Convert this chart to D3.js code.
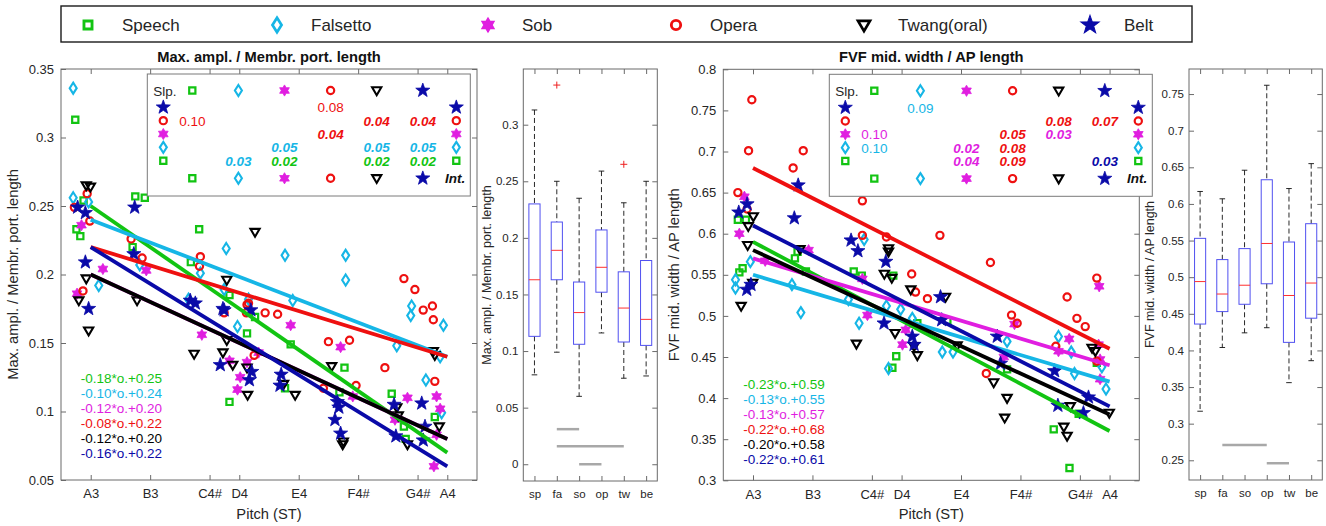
<!DOCTYPE html>
<html>
<head>
<meta charset="utf-8">
<script src="https://cdn.jsdelivr.net/npm/d3@7/dist/d3.min.js"></script>
<style>
html,body{margin:0;padding:0;background:#fff;}
svg{display:block;font-family:Arial,"Liberation Sans",Helvetica,sans-serif;}
</style>
</head>
<body>
<svg id="fig" width="1326" height="526"></svg>
<script>
// ---------------- data ----------------
const styleNames = ["Speech", "Falsetto", "Sob", "Opera", "Twang(oral)", "Belt"];
const styleCodes = ["sp", "fa", "so", "op", "tw", "be"];
const styleColors = ["#12c412", "#16b6e6", "#e01ee0", "#ee1010", "#000000", "#0a0aa8"];

// pitch axis: semitones above A3
const noteNames = ["A3", "B3", "C4#", "D4", "E4", "F4#", "G4#", "A4"];
const noteSemitones = [0, 2, 4, 5, 7, 9, 11, 12];

// Max. amplitude / membranous portion length  [semitones, value]
const amplSpeech = [[-0.52,0.313],[-0.48,0.233],[-0.35,0.228],[-0.24,0.254],[1.41,0.220],[1.5,0.257],[1.82,0.256],[3.65,0.233],[3.37,0.209],[4.67,0.185],[5.53,0.169],[5.26,0.157],[4.67,0.107],[6.73,0.149],[6.54,0.117],[8.54,0.132],[8.37,0.114],[10.13,0.113],[10.54,0.089],[11.58,0.096],[10.6,0.080]];
const amplFalsetto = [[-0.59,0.336],[-0.59,0.256],[-0.07,0.253],[0.27,0.192],[1.65,0.207],[3.29,0.182],[3.69,0.201],[4.56,0.219],[4.49,0.189],[5.31,0.182],[4.94,0.162],[6.54,0.214],[6.8,0.181],[8.58,0.214],[8.58,0.196],[10.8,0.177],[10.77,0.170],[10.3,0.148],[11.28,0.123],[11.87,0.163],[11.76,0.140],[11.81,0.099]];
const amplSob = [[-0.31,0.236],[0.41,0.204],[-0.46,0.186],[1.87,0.203],[3.74,0.156],[4.67,0.137],[5.26,0.136],[5.65,0.143],[5.03,0.125],[4.94,0.116],[6.73,0.163],[8.41,0.147],[8.82,0.111],[10.66,0.110],[10.24,0.094],[11.64,0.111],[11.76,0.102],[11.64,0.083],[11.55,0.060]];
const amplOpera = [[-0.55,0.249],[-0.12,0.259],[-0.03,0.239],[-0.26,0.188],[1.36,0.226],[1.73,0.212],[3.69,0.213],[3.66,0.206],[4.49,0.172],[5.26,0.178],[5.24,0.172],[5.31,0.179],[5.87,0.172],[6.29,0.171],[5.5,0.141],[8.0,0.151],[8.71,0.152],[7.83,0.117],[8.93,0.119],[9.9,0.132],[10.54,0.197],[10.91,0.189],[11.19,0.174],[11.5,0.177],[11.53,0.167],[11.58,0.122]];
const amplTwang = [[-0.15,0.265],[-0.01,0.264],[-0.15,0.197],[-0.40,0.181],[-0.07,0.159],[1.56,0.181],[4.58,0.196],[3.48,0.142],[4.45,0.143],[4.58,0.152],[4.78,0.134],[5.26,0.132],[5.28,0.112],[5.53,0.231],[6.49,0.120],[6.88,0.112],[8.11,0.133],[8.5,0.078],[8.48,0.076],[11.53,0.144],[11.58,0.141],[10.3,0.103],[10.35,0.097],[10.66,0.076],[11.73,0.089]];
const amplBelt = [[-0.44,0.249],[-0.18,0.245],[-0.18,0.209],[-0.07,0.175],[1.48,0.249],[1.45,0.215],[3.35,0.181],[3.52,0.179],[4.49,0.174],[4.45,0.175],[5.39,0.174],[4.36,0.134],[5.42,0.129],[5.34,0.123],[6.41,0.127],[6.37,0.119],[8.3,0.107],[8.35,0.103],[8.22,0.094],[8.41,0.084],[11.14,0.106],[10.27,0.082],[11.25,0.089],[11.19,0.079],[10.21,0.105]];

// FVF mid. width / AP length  [semitones, value]
const fvfSpeech = [[-0.51,0.617],[-0.24,0.617],[-0.35,0.558],[-0.46,0.553],[1.41,0.570],[1.5,0.578],[1.78,0.554],[3.39,0.554],[3.66,0.549],[4.72,0.549],[4.69,0.437],[4.82,0.451],[5.53,0.491],[6.54,0.494],[8.55,0.435],[10.12,0.362],[10.65,0.315],[10.96,0.381],[11.57,0.443]];
const fvfFalsetto = [[-0.09,0.566],[-0.59,0.544],[-0.59,0.534],[1.31,0.538],[1.61,0.504],[3.74,0.593],[3.21,0.520],[3.57,0.491],[4.49,0.512],[4.97,0.508],[4.56,0.436],[5.36,0.497],[6.37,0.456],[6.73,0.456],[8.55,0.469],[10.28,0.475],[10.71,0.456],[10.82,0.430],[11.88,0.411],[11.74,0.438]];
const fvfSob = [[-0.29,0.645],[-0.46,0.600],[0.41,0.567],[1.87,0.580],[3.68,0.545],[3.85,0.501],[5.03,0.465],[5.14,0.483],[8.44,0.450],[8.8,0.490],[10.64,0.472],[10.28,0.457],[11.63,0.465],[11.68,0.447],[11.68,0.423],[11.65,0.536]];
const fvfOpera = [[-0.04,0.763],[-0.15,0.701],[-0.51,0.650],[-0.2,0.630],[1.69,0.701],[1.35,0.680],[3.68,0.640],[3.68,0.598],[4.49,0.596],[5.34,0.551],[5.47,0.529],[5.87,0.521],[6.29,0.598],[7.99,0.565],[8.7,0.501],[8.89,0.491],[7.85,0.430],[11.57,0.546],[10.57,0.523],[10.9,0.497],[11.18,0.487],[10.19,0.463],[11.57,0.445]];
const fvfTwang = [[0.01,0.621],[-0.16,0.609],[-0.18,0.586],[-0.01,0.540],[-0.4,0.512],[1.58,0.581],[3.48,0.466],[4.56,0.582],[4.56,0.578],[4.42,0.551],[4.67,0.546],[5.31,0.532],[4.78,0.479],[5.42,0.463],[5.53,0.452],[6.48,0.523],[6.87,0.464],[8.1,0.419],[8.55,0.400],[8.47,0.376],[11.41,0.461],[11.52,0.457],[10.68,0.390],[10.46,0.365],[10.57,0.354],[11.99,0.382]];
const fvfBelt = [[-0.48,0.626],[-0.2,0.636],[-0.21,0.532],[-0.07,0.538],[1.52,0.659],[1.39,0.619],[3.3,0.592],[3.53,0.579],[4.47,0.566],[4.41,0.491],[5.36,0.475],[5.42,0.465],[6.31,0.523],[6.35,0.495],[8.22,0.475],[8.33,0.442],[10.15,0.433],[10.26,0.391],[11.12,0.382],[11.29,0.401]];

// linear fits: value = slope * octave + intercept
const amplSlopes = [-0.18, -0.10, -0.12, -0.08, -0.12, -0.16];
const amplIntercepts = [0.25, 0.24, 0.20, 0.22, 0.20, 0.22];
const fvfSlopes = [-0.23, -0.13, -0.13, -0.22, -0.20, -0.22];
const fvfIntercepts = [0.59, 0.55, 0.57, 0.68, 0.58, 0.61];

// pairwise differences: [row style, column style, text, colour style, significant]
const amplPairs = [[5,3,"0.08",3,false],[3,0,"0.10",3,false],[3,4,"0.04",3,true],[3,5,"0.04",3,true],[2,3,"0.04",3,true],[1,2,"0.05",1,true],[1,4,"0.05",1,true],[1,5,"0.05",1,true],[0,1,"0.03",1,true],[0,2,"0.02",0,true],[0,4,"0.02",0,true],[0,5,"0.02",0,true]];
const fvfPairs = [[5,1,"0.09",1,false],[3,4,"0.08",3,true],[3,5,"0.07",3,true],[2,0,"0.10",2,false],[2,3,"0.05",3,true],[2,4,"0.03",2,true],[1,0,"0.10",1,false],[1,2,"0.02",2,true],[1,3,"0.08",3,true],[0,2,"0.04",2,true],[0,3,"0.09",3,true],[0,5,"0.03",5,true]];

// box plot summaries per style
const amplBoxLow = [0.079, 0.099, 0.060, 0.116, 0.076, 0.078];
const amplBoxQ1 = [0.113, 0.163, 0.106, 0.152, 0.108, 0.105];
const amplBoxMedian = [0.163, 0.189, 0.134, 0.174, 0.138, 0.128];
const amplBoxQ3 = [0.230, 0.214, 0.161, 0.207, 0.170, 0.180];
const amplBoxHigh = [0.313, 0.250, 0.235, 0.259, 0.231, 0.250];
const amplOutliers = [[1, 0.335], [4, 0.265]];
const amplSignif = [[1, 2, 0.031], [1, 4, 0.016], [2, 3, 0.0]];

const fvfBoxLow = [0.317, 0.404, 0.424, 0.431, 0.356, 0.386];
const fvfBoxQ1 = [0.436, 0.453, 0.463, 0.491, 0.411, 0.444];
const fvfBoxMedian = [0.494, 0.477, 0.489, 0.546, 0.475, 0.492];
const fvfBoxQ3 = [0.553, 0.524, 0.539, 0.633, 0.548, 0.573];
const fvfBoxHigh = [0.617, 0.607, 0.646, 0.762, 0.621, 0.655];
const fvfOutliers = [];
const fvfSignif = [[1, 3, 0.271], [3, 4, 0.246]];

const amplTicks = [0.05, 0.1, 0.15, 0.2, 0.25, 0.3, 0.35];
const fvfTicks = [0.3, 0.35, 0.4, 0.45, 0.5, 0.55, 0.6, 0.65, 0.7, 0.75, 0.8];
const amplBoxTicks = [0, 0.05, 0.1, 0.15, 0.2, 0.25, 0.3];
const fvfBoxTicks = [0.25, 0.3, 0.35, 0.4, 0.45, 0.5, 0.55, 0.6, 0.65, 0.7, 0.75];

// ---------------- drawing ----------------
const svg = d3.select("#fig");
const AXIS = "#6a6a6a", TXT = "#262626";
const fmtNum = d => String(+d.toFixed(2));

function polyPath(pts) { return "M" + pts.map(p => p[0].toFixed(2) + "," + p[1].toFixed(2)).join("L") + "Z"; }
function starPts(n, R, r) {
  const pts = [];
  for (let i = 0; i < 2 * n; i++) {
    const a = -Math.PI / 2 + i * Math.PI / n, rr = i % 2 ? r : R;
    pts.push([rr * Math.cos(a), rr * Math.sin(a)]);
  }
  return pts;
}
const markerDefs = [
  { d: "M-3.1,-3.1H3.1V3.1H-3.1Z", fill: false, sw: 2.2 },
  { d: "M0,-5.5L3.5,0L0,5.5L-3.5,0Z", fill: false, sw: 2.1 },
  { d: polyPath(starPts(6, 5.6, 5.6 / Math.sqrt(3))), fill: true, sw: 0.8 },
  { d: "M3.6,0A3.6,3.6 0 1,1 -3.6,0A3.6,3.6 0 1,1 3.6,0Z", fill: false, sw: 2.2 },
  { d: "M-4.6,-3.2L4.6,-3.2L0,4.7Z", fill: false, sw: 2.1 },
  { d: polyPath(starPts(5, 7.4, 3.0)), fill: true, sw: 0.8 }
];
function marker(g, s, x, y, k = 1) {
  const m = markerDefs[s];
  g.append("path").attr("d", m.d).attr("transform", `translate(${x},${y}) scale(${k})`)
    .attr("fill", m.fill ? styleColors[s] : "none")
    .attr("stroke", styleColors[s]).attr("stroke-width", m.sw)
    .attr("stroke-linejoin", "miter");
}

function styleAxis(sel, fs) {
  sel.select(".domain").remove();
  sel.selectAll(".tick line").attr("stroke", AXIS).attr("stroke-width", 1);
  sel.selectAll(".tick text").attr("fill", TXT).style("font-size", fs + "px")
    .style("font-family", "Arial, 'Liberation Sans', sans-serif");
}

// frame with inward ticks on all four sides
function frame(g, x, y, w, h, xVals, xFmt, yVals, yFmt, fs, pad) {
  g.append("g").attr("transform", `translate(0,${h})`)
    .call(d3.axisBottom(x).tickValues(xVals).tickFormat(xFmt).tickSizeInner(-5).tickSizeOuter(0).tickPadding(pad.x))
    .call(s => styleAxis(s, fs));
  g.append("g")
    .call(d3.axisTop(x).tickValues(xVals).tickFormat("").tickSizeInner(-5).tickSizeOuter(0))
    .call(s => styleAxis(s, fs));
  g.append("g")
    .call(d3.axisLeft(y).tickValues(yVals).tickFormat(yFmt).tickSizeInner(-5).tickSizeOuter(0).tickPadding(pad.y))
    .call(s => styleAxis(s, fs));
  g.append("g").attr("transform", `translate(${w},0)`)
    .call(d3.axisRight(y).tickValues(yVals).tickFormat("").tickSizeInner(-5).tickSizeOuter(0))
    .call(s => styleAxis(s, fs));
  g.append("rect").attr("width", w).attr("height", h).attr("fill", "none")
    .attr("stroke", AXIS).attr("stroke-width", 1);
}

// ---- legend ----
const legendG = svg.append("g");
legendG.append("rect").attr("x", 61).attr("y", 6).attr("width", 1131).attr("height", 36)
  .attr("fill", "#fff").attr("stroke", "#1a1a1a").attr("stroke-width", 1.4);
const legendMarkerX = [88, 277, 488, 676, 864, 1090];
styleNames.forEach((name, i) => {
  marker(legendG, i, legendMarkerX[i], 25, 1.3);
  legendG.append("text").attr("x", legendMarkerX[i] + 34).attr("y", 31)
    .attr("fill", TXT).style("font-size", "17px").text(name);
});

// ---- scatter panel ----
function scatterPanel(cfg) {
  const { left, top, w, h } = cfg;
  const g = svg.append("g").attr("transform", `translate(${left},${top})`);
  const x = d3.scaleLinear().domain([-1, 13]).range([0, w]);
  const y = d3.scaleLinear().domain(cfg.yDomain).range([h, 0]);

  frame(g, x, y, w, h, noteSemitones, (d, i) => noteNames[i], cfg.yTicks, fmtNum, 13, { x: 9, y: 7 });

  // points
  cfg.series.forEach((pts, s) => pts.forEach(p => marker(g, s, x(p[0]), y(p[1]))));

  // fit lines, octave 0 (A3) to 1 (A4)
  const line = d3.line().x(d => x(d[0])).y(d => y(d[1]));
  cfg.slopes.forEach((b, s) => {
    const a = cfg.intercepts[s];
    const seg = [0, 12].map(st => [st, a + b * st / 12]);
    g.append("path").attr("d", line(seg)).attr("fill", "none")
      .attr("stroke", styleColors[s]).attr("stroke-width", 3.8);
  });

  // fit equations
  cfg.slopes.forEach((b, s) => {
    g.append("text").attr("x", cfg.eqX).attr("y", cfg.eqY + s * 15)
      .attr("fill", styleColors[s]).style("font-size", "13.5px")
      .text(`${b.toFixed(2)}*o.+${cfg.intercepts[s].toFixed(2)}`);
  });

  // pairwise difference table
  const tb = g.append("g").attr("transform", `translate(${cfg.tabX},${cfg.tabY})`);
  tb.append("rect").attr("width", 323).attr("height", 122).attr("fill", "#fff")
    .attr("stroke", "#7a7a7a").attr("stroke-width", 1);
  const colX = d3.scaleLinear().domain([0, 5]).range([45, 275.5]);
  const rowOrder = [5, 3, 2, 1, 0];
  const rowY = d3.scaleLinear().domain([0, 4]).range([33.3, 86.7]);
  tb.append("text").attr("x", 6).attr("y", 21.5).attr("fill", TXT).style("font-size", "13.5px").text("Slp.");
  tb.append("text").attr("x", 318).attr("y", 109).attr("text-anchor", "end").attr("fill", "#111")
    .style("font-size", "13.5px").style("font-weight", "bold").style("font-style", "italic").text("Int.");
  d3.range(6).forEach(s => {
    marker(tb, s, colX(s), 16.5);
    marker(tb, s, colX(s), 104.3);
  });
  rowOrder.forEach((s, r) => {
    marker(tb, s, 16, rowY(r));
    marker(tb, s, 309, rowY(r));
  });
  cfg.pairs.forEach(([rs, cs, txt, col, sig]) => {
    const t = tb.append("text").attr("x", colX(cs)).attr("y", rowY(rowOrder.indexOf(rs)) + 5)
      .attr("text-anchor", "middle").attr("fill", styleColors[col]).style("font-size", "13.5px").text(txt);
    if (sig) t.style("font-weight", "bold").style("font-style", "italic");
  });

  // titles
  g.append("text").attr("x", w / 2).attr("y", -7).attr("text-anchor", "middle")
    .attr("fill", "#111").style("font-size", "14.7px").style("font-weight", "bold").text(cfg.title);
  g.append("text").attr("x", w / 2).attr("y", h + 38.5).attr("text-anchor", "middle")
    .attr("fill", TXT).style("font-size", "14.7px").text("Pitch (ST)");
  g.append("text").attr("transform", `translate(${cfg.yLabelX},${h / 2}) rotate(-90)`)
    .attr("text-anchor", "middle").attr("fill", TXT).style("font-size", "14.7px").text(cfg.title);
}

// ---- box plot panel ----
function boxPanel(cfg) {
  const { left, top, w, h } = cfg;
  const g = svg.append("g").attr("transform", `translate(${left},${top})`);
  const x = d3.scaleLinear().domain([0.5, 6.5]).range([0, w]);
  const y = d3.scaleLinear().domain(cfg.yDomain).range([h, 0]);
  frame(g, x, y, w, h, d3.range(1, 7), (d, i) => styleCodes[i], cfg.yTicks, fmtNum, 11.5, { x: 9, y: 5 });

  const bw = x(0.75) - x(0.5), cw = x(0.625) - x(0.5);
  styleCodes.forEach((c, i) => {
    const cx = x(i + 1);
    [[cfg.high[i], cfg.q3[i]], [cfg.q1[i], cfg.low[i]]].forEach(([a, b]) => {
      g.append("line").attr("x1", cx).attr("x2", cx).attr("y1", y(a)).attr("y2", y(b))
        .attr("stroke", "#111").attr("stroke-width", 0.9).attr("stroke-dasharray", "5,3");
    });
    [cfg.high[i], cfg.low[i]].forEach(v => {
      g.append("line").attr("x1", cx - cw).attr("x2", cx + cw).attr("y1", y(v)).attr("y2", y(v))
        .attr("stroke", "#111").attr("stroke-width", 0.9);
    });
    g.append("rect").attr("x", cx - bw).attr("width", 2 * bw)
      .attr("y", y(cfg.q3[i])).attr("height", y(cfg.q1[i]) - y(cfg.q3[i]))
      .attr("fill", "none").attr("stroke", "#5050f0").attr("stroke-width", 1);
    g.append("line").attr("x1", cx - bw).attr("x2", cx + bw)
      .attr("y1", y(cfg.median[i])).attr("y2", y(cfg.median[i]))
      .attr("stroke", "#ff3030").attr("stroke-width", 1);
  });
  cfg.outliers.forEach(([i, v]) => {
    const cx = x(i + 1), cy = y(v);
    g.append("path").attr("d", `M${cx - 3.5},${cy}H${cx + 3.5}M${cx},${cy - 3.5}V${cy + 3.5}`)
      .attr("stroke", "#ee2020").attr("stroke-width", 1);
  });
  cfg.signif.forEach(([a, b, v]) => {
    g.append("line").attr("x1", x(a + 1)).attr("x2", x(b + 1)).attr("y1", y(v)).attr("y2", y(v))
      .attr("stroke", "#a8a8a8").attr("stroke-width", 2.5);
  });
  g.append("text").attr("transform", `translate(${cfg.yLabelX},${h / 2}) rotate(-90)`)
    .attr("text-anchor", "middle").attr("fill", TXT).style("font-size", "12.5px").text(cfg.label);
}

scatterPanel({
  left: 61, top: 69, w: 416, h: 411, yDomain: [0.05, 0.35], yTicks: amplTicks,
  series: [amplSpeech, amplFalsetto, amplSob, amplOpera, amplTwang, amplBelt],
  slopes: amplSlopes, intercepts: amplIntercepts, pairs: amplPairs,
  eqX: 19.7, eqY: 314, tabX: 86.3, tabY: 5,
  title: "Max. ampl. / Membr. port. length", yLabelX: -43
});
boxPanel({
  left: 523.3, top: 69, w: 134, h: 412, yDomain: [-0.0148, 0.3492], yTicks: amplBoxTicks,
  low: amplBoxLow, q1: amplBoxQ1, median: amplBoxMedian, q3: amplBoxQ3, high: amplBoxHigh,
  outliers: amplOutliers, signif: amplSignif,
  label: "Max. ampl. / Membr. port. length", yLabelX: -32
});
scatterPanel({
  left: 723.3, top: 69.3, w: 416, h: 411, yDomain: [0.3, 0.8], yTicks: fvfTicks,
  series: [fvfSpeech, fvfFalsetto, fvfSob, fvfOpera, fvfTwang, fvfBelt],
  slopes: fvfSlopes, intercepts: fvfIntercepts, pairs: fvfPairs,
  eqX: 20, eqY: 319.7, tabX: 106, tabY: 5,
  title: "FVF mid. width / AP length", yLabelX: -44
});
boxPanel({
  left: 1189, top: 69, w: 133.3, h: 411, yDomain: [0.2231, 0.7842], yTicks: fvfBoxTicks,
  low: fvfBoxLow, q1: fvfBoxQ1, median: fvfBoxMedian, q3: fvfBoxQ3, high: fvfBoxHigh,
  outliers: fvfOutliers, signif: fvfSignif,
  label: "FVF mid. width / AP length", yLabelX: -35
});
</script>
</body>
</html>
